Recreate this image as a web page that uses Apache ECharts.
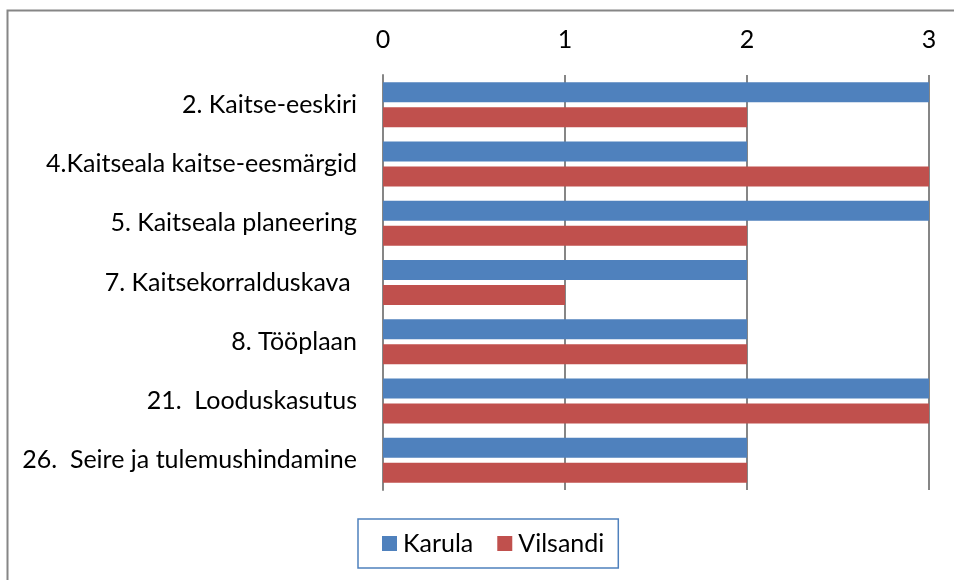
<!DOCTYPE html>
<html>
<head>
<meta charset="utf-8">
<script src="https://cdn.jsdelivr.net/npm/echarts@6/dist/echarts.min.js"></script>
<style>
  html, body { margin: 0; padding: 0; background: #fff; }
  #chart { width: 954px; height: 580px; }
</style>
</head>
<body>
<div id="chart"></div>
<script>
const categories = [
  '2. Kaitse-eeskiri',
  '4.Kaitseala kaitse-eesmärgid',
  '5. Kaitseala planeering',
  '7. Kaitsekorralduskava ',
  '8. Tööplaan',
  '21.  Looduskasutus',
  '26.  Seire ja tulemushindamine'
]
const karula = [3, 2, 3, 2, 2, 3, 2]
const vilsandi = [2, 3, 2, 1, 2, 3, 2]
const xTicks = [0, 1, 2, 3]

const FONT = 'Lato'
const SIZE = 25
const myChart = echarts.init(document.getElementById('chart'))

const option = {
  animation: false,
  textStyle: { fontFamily: FONT, color: '#000' },
  grid: { left: 383, right: 25, top: 75, bottom: 90 },
  graphic: [{
    type: 'rect',
    left: 5,
    top: 8,
    shape: { width: 960, height: 590 },
    style: { fill: 'none', stroke: '#868686', lineWidth: 2 },
    z: -1
  }],
  legend: {
    data: ['Karula', 'Vilsandi'],
    left: 358,
    top: 519,
    icon: 'rect',
    itemWidth: 15,
    itemHeight: 15,
    itemGap: 24,
    padding: [12, 14, 12, 24],
    borderColor: '#4F81BD',
    borderWidth: 1.5,
    textStyle: { fontFamily: FONT, fontSize: SIZE, lineHeight: 25, color: '#000', padding: [0, 0, 0, 1] }
  },
  xAxis: {
    type: 'value',
    position: 'top',
    min: xTicks[0],
    max: xTicks[xTicks.length - 1],
    interval: 1,
    axisLine: { show: false },
    axisTick: { show: false },
    axisLabel: { fontFamily: FONT, fontSize: SIZE, color: '#000', margin: 23 },
    splitLine: { show: true, lineStyle: { color: '#868686', width: 2 } }
  },
  yAxis: {
    type: 'category',
    data: categories,
    inverse: true,
    axisLine: { show: true, lineStyle: { color: '#868686', width: 2 } },
    axisTick: { show: false },
    axisLabel: { fontFamily: FONT, fontSize: SIZE, color: '#000', margin: 26 }
  },
  series: [
    {
      name: 'Karula',
      type: 'bar',
      data: karula,
      barWidth: 20,
      barGap: '25%',
      itemStyle: { color: '#4F81BD' }
    },
    {
      name: 'Vilsandi',
      type: 'bar',
      data: vilsandi,
      barWidth: 20,
      barGap: '25%',
      itemStyle: { color: '#C0504D' }
    }
  ]
}

option && myChart.setOption(option)

window.addEventListener('resize', function () {
  myChart.resize()
})
</script>
</body>
</html>
